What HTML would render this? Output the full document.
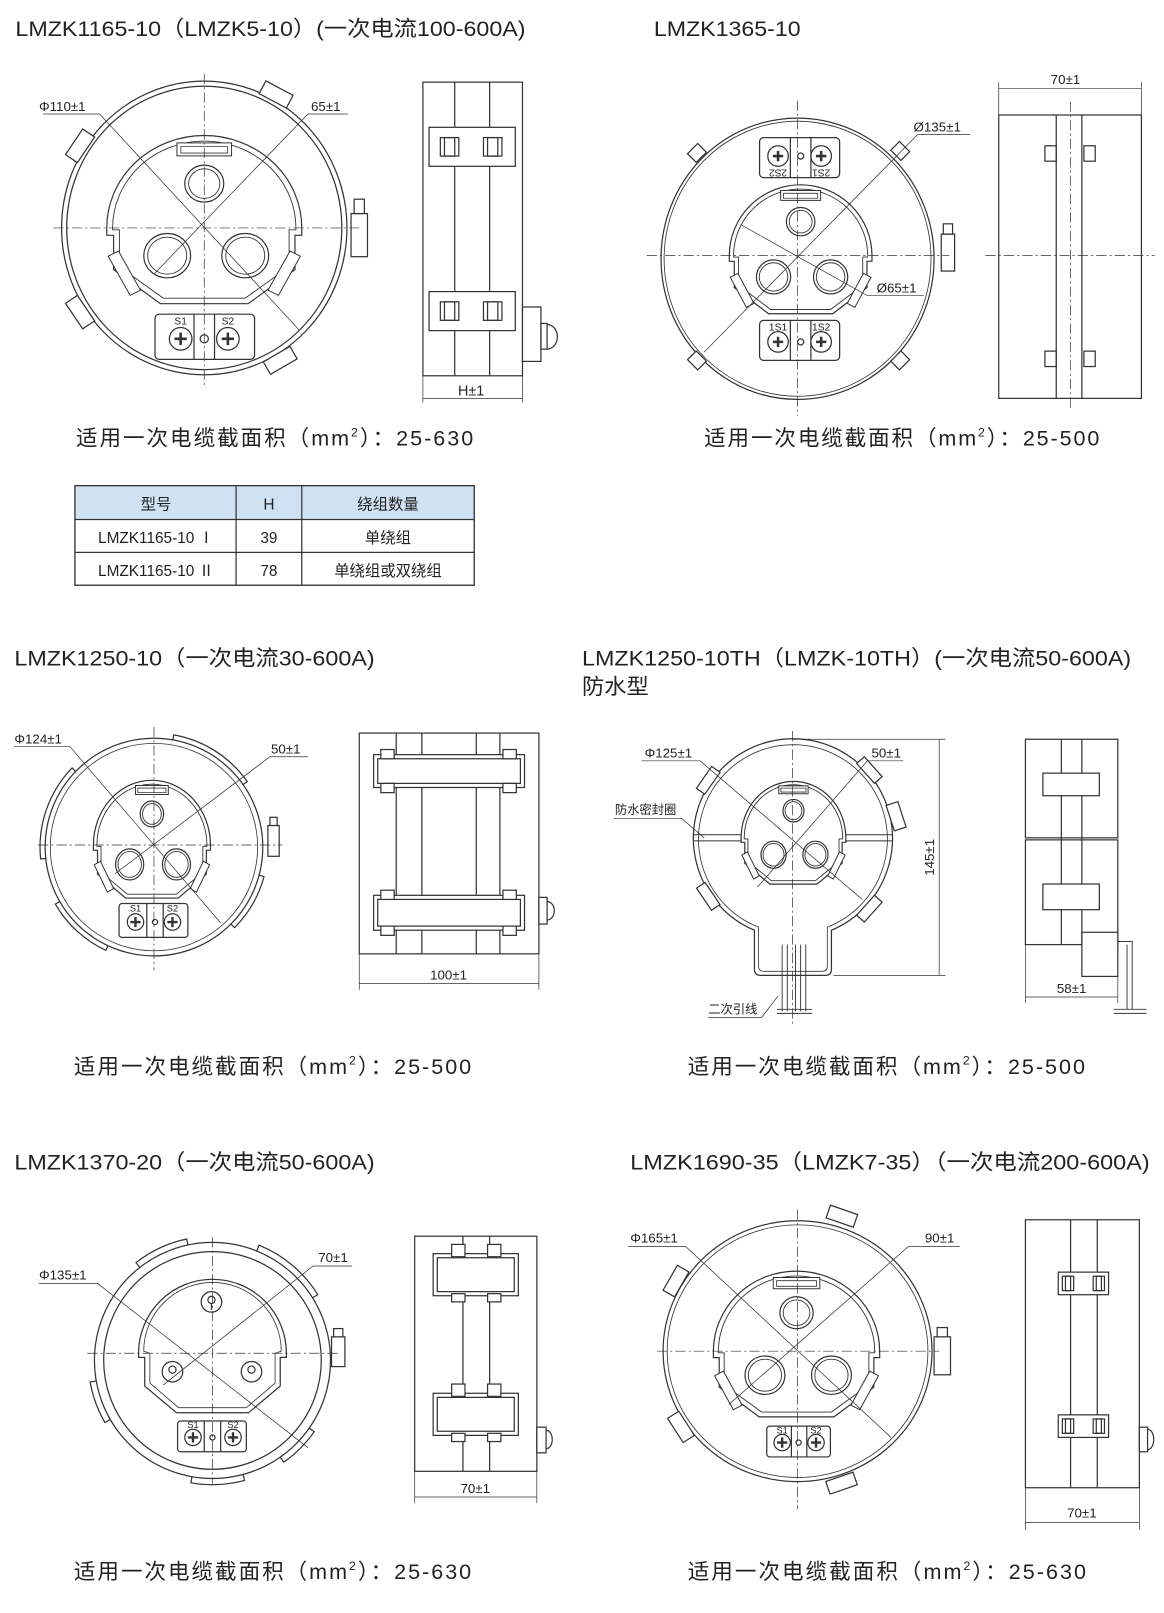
<!DOCTYPE html>
<html><head><meta charset="utf-8"><style>
html,body{margin:0;padding:0;background:#fff}
svg{display:block}
text{font-family:"Liberation Sans","Noto Sans CJK SC",sans-serif;fill:#222}
</style></head><body>
<svg width="1164" height="1613" viewBox="0 0 1134 1571" preserveAspectRatio="none" xmlns="http://www.w3.org/2000/svg">
<defs>
<g id="win">
<path d="M-100,0 A100,100 0 0 1 100,0 L100,8 L93,8 L93,45 L45,82 L-45,82 L-93,45 L-93,8 L-100,8 Z" fill="#fff" stroke="#333" stroke-width="1.2" vector-effect="non-scaling-stroke"/>
<path d="M-94,0 A94,94 0 0 1 94,0 L94,2 L87,2 L87,42 L42,76 L-42,76 L-87,42 L-87,2 L-94,2 Z" fill="none" stroke="#333" stroke-width="0.9" vector-effect="non-scaling-stroke"/>
<circle cx="0" cy="-48" r="20" fill="none" stroke="#333" stroke-width="1.2" vector-effect="non-scaling-stroke"/>
<circle cx="0" cy="-48" r="16" fill="none" stroke="#333" stroke-width="0.9" vector-effect="non-scaling-stroke"/>
<rect x="-28" y="-92" width="56" height="14" fill="#fff" stroke="#333" stroke-width="1" vector-effect="non-scaling-stroke"/>
<rect x="-24" y="-88" width="48" height="7" fill="none" stroke="#333" stroke-width="0.8" vector-effect="non-scaling-stroke"/>
<circle cx="-38" cy="30" r="24" fill="none" stroke="#333" stroke-width="1.2" vector-effect="non-scaling-stroke"/>
<circle cx="-38" cy="30" r="20" fill="none" stroke="#333" stroke-width="0.9" vector-effect="non-scaling-stroke"/>
<circle cx="42" cy="30" r="24" fill="none" stroke="#333" stroke-width="1.2" vector-effect="non-scaling-stroke"/>
<circle cx="42" cy="30" r="20" fill="none" stroke="#333" stroke-width="0.9" vector-effect="non-scaling-stroke"/>
<rect x="-88" y="25" width="12" height="48" transform="rotate(-28,-82,49)" fill="#fff" stroke="#333" stroke-width="1" vector-effect="non-scaling-stroke"/>
<rect x="76" y="25" width="12" height="48" transform="rotate(28,82,49)" fill="#fff" stroke="#333" stroke-width="1" vector-effect="non-scaling-stroke"/>
</g>
</defs>
<g fill="none" stroke="#333" stroke-width="1.2">

<!-- ===== Panel 1 ===== -->
<ellipse cx="199" cy="222" rx="139" ry="143"/>
<ellipse cx="199" cy="222" rx="134" ry="138"/>
<rect x="254" y="85" width="30" height="14" transform="rotate(28,269,92)" fill="#fff"/>
<rect x="63" y="135" width="30" height="14" transform="rotate(-56,78,142)" fill="#fff"/>
<rect x="63" y="297" width="30" height="14" transform="rotate(56,78,304)" fill="#fff"/>
<rect x="258" y="344" width="30" height="14" transform="rotate(-30,273,351)" fill="#fff"/>
<use href="#win" transform="translate(199,222) scale(0.95,0.9)"/>
<rect x="151" y="306" width="97" height="44" rx="4" fill="#fff"/>
<line x1="189" y1="306" x2="189" y2="350"/><line x1="209" y1="306" x2="209" y2="350"/>
<circle cx="176" cy="330" r="11"/><circle cx="222" cy="330" r="11"/><circle cx="199" cy="330" r="4"/>
<path d="M170,330h12M176,324v12M216,330h12M222,324v12" stroke-width="2.5"/>
<rect x="342" y="208" width="16" height="42" fill="#fff"/><rect x="345" y="194" width="10" height="14" fill="#fff"/>
<g stroke-width="0.7" stroke-dasharray="10,3,2,3"><line x1="52" y1="222" x2="350" y2="222"/><line x1="199" y1="72" x2="199" y2="378"/></g>
<g stroke-width="0.7"><path d="M42,111H97L292,322"/><path d="M339,111H300L150,267"/></g>
<!-- side -->
<rect x="412" y="80" width="97" height="286" fill="#fff"/>
<line x1="443" y1="80" x2="443" y2="366"/><line x1="477" y1="80" x2="477" y2="366"/>
<rect x="418" y="124" width="84" height="38" fill="#fff"/><rect x="418" y="284" width="84" height="38" fill="#fff"/>
<rect x="429" y="134" width="18" height="18"/><rect x="433" y="134" width="10" height="18"/>
<rect x="471" y="134" width="18" height="18"/><rect x="475" y="134" width="10" height="18"/>
<rect x="429" y="294" width="18" height="18"/><rect x="433" y="294" width="10" height="18"/>
<rect x="471" y="294" width="18" height="18"/><rect x="475" y="294" width="10" height="18"/>
<rect x="509" y="299" width="18" height="53" fill="#fff"/><rect x="527" y="315" width="6" height="25"/><path d="M533,316 a10,12 0 0 1 0,24"/>
<g stroke-width="0.7"><line x1="412" y1="366" x2="412" y2="392"/><line x1="509" y1="366" x2="509" y2="392"/><line x1="412" y1="388" x2="509" y2="388"/></g>

<!-- ===== Panel 2 ===== -->
<ellipse cx="777" cy="252" rx="133" ry="137"/>
<ellipse cx="777" cy="252" rx="130" ry="134" stroke-width="0.8"/>
<rect x="672" y="143" width="14" height="12" transform="rotate(-45,679,149)" fill="#fff"/>
<rect x="870" y="141" width="14" height="12" transform="rotate(45,877,147)" fill="#fff"/>
<rect x="672" y="345" width="14" height="12" transform="rotate(45,679,351)" fill="#fff"/>
<rect x="870" y="345" width="14" height="12" transform="rotate(-45,877,351)" fill="#fff"/>
<use href="#win" transform="translate(780,249) scale(0.695,0.69)"/>
<rect x="740" y="134" width="78" height="39" rx="4" fill="#fff"/>
<line x1="770" y1="134" x2="770" y2="173"/><line x1="790" y1="134" x2="790" y2="173"/>
<circle cx="758" cy="152" r="10"/><circle cx="800" cy="152" r="10"/><circle cx="780" cy="152" r="3"/>
<path d="M753,152h10M758,147v10M795,152h10M800,147v10" stroke-width="2.5"/>
<rect x="740" y="312" width="78" height="39" rx="4" fill="#fff"/>
<line x1="770" y1="312" x2="770" y2="351"/><line x1="790" y1="312" x2="790" y2="351"/>
<circle cx="758" cy="333" r="10"/><circle cx="800" cy="333" r="10"/><circle cx="780" cy="333" r="3"/>
<path d="M753,333h10M758,328v10M795,333h10M800,328v10" stroke-width="2.5"/>
<rect x="917" y="228" width="13" height="36" fill="#fff"/><rect x="919" y="218" width="9" height="10" fill="#fff"/>
<g stroke-width="0.7" stroke-dasharray="10,3,2,3"><line x1="630" y1="249" x2="925" y2="249"/><line x1="777" y1="98" x2="777" y2="405"/></g>
<g stroke-width="0.7"><path d="M945,131H894L686,343"/><path d="M900,288H845L722,219"/></g>
<!-- side -->
<rect x="973" y="112" width="139" height="276" fill="#fff"/>
<line x1="1029" y1="112" x2="1029" y2="388"/><line x1="1054" y1="112" x2="1054" y2="388"/>
<rect x="1018" y="142" width="11" height="15"/><rect x="1056" y="142" width="11" height="15"/>
<rect x="1018" y="342" width="11" height="15"/><rect x="1056" y="342" width="11" height="15"/>
<g stroke-width="0.7" stroke-dasharray="10,3,2,3"><line x1="1043" y1="99" x2="1043" y2="400"/><line x1="960" y1="249" x2="1125" y2="249"/></g>
<g stroke-width="0.7"><line x1="973" y1="80" x2="973" y2="112"/><line x1="1112" y1="80" x2="1112" y2="112"/><line x1="973" y1="86" x2="1112" y2="86"/></g>

<!-- ===== Panel 3 ===== -->
<circle cx="150" cy="825" r="106"/>
<circle cx="150" cy="825" r="101" stroke-width="0.8"/>
<path d="M168.4,720.6 L169.3,715.7 A111,111 0 0 1 240.9,761.3 L236.8,764.2"/>
<path d="M44.6,836.1 L39.6,836.6 A111,111 0 0 1 70.2,747.9 L73.7,751.4"/>
<path d="M252.4,852.4 L257.2,853.7 A111,111 0 0 1 228.5,903.5 L225,900"/>
<path d="M58.2,878 L53.9,880.5 A111,111 0 0 0 103.1,925.6 L105.2,921.1"/>
<use href="#win" transform="translate(148,823) scale(0.57,0.63)"/>
<rect x="116" y="880" width="67" height="33" rx="3" fill="#fff"/>
<line x1="143" y1="880" x2="143" y2="913"/><line x1="159" y1="880" x2="159" y2="913"/>
<circle cx="132" cy="898" r="8"/><circle cx="168" cy="898" r="8"/><circle cx="151" cy="898" r="2.5"/>
<path d="M127,898h10M132,893v10M163,898h10M168,893v10" stroke-width="2.3"/>
<rect x="261" y="804" width="11" height="30" fill="#fff"/><rect x="263" y="796" width="7" height="8" fill="#fff"/>
<g stroke-width="0.7" stroke-dasharray="10,3,2,3"><line x1="37" y1="823" x2="275" y2="823"/><line x1="150" y1="708" x2="150" y2="945"/></g>
<g stroke-width="0.7"><path d="M14,727H68L215,899"/><path d="M300,737H263L112,851"/></g>
<!-- side -->
<rect x="350" y="714" width="175" height="215" fill="#fff"/>
<line x1="386" y1="714" x2="386" y2="929"/><line x1="411" y1="714" x2="411" y2="929"/>
<line x1="464" y1="714" x2="464" y2="929"/><line x1="487" y1="714" x2="487" y2="929"/>
<rect x="364" y="735" width="147" height="32" fill="#fff"/><rect x="368" y="739" width="139" height="24"/>
<rect x="364" y="872" width="147" height="34" fill="#fff"/><rect x="368" y="876" width="139" height="26"/>
<rect x="371" y="730" width="13" height="9" fill="#fff"/><rect x="490" y="730" width="13" height="9" fill="#fff"/>
<rect x="371" y="763" width="13" height="9" fill="#fff"/><rect x="490" y="763" width="13" height="9" fill="#fff"/>
<rect x="371" y="867" width="13" height="9" fill="#fff"/><rect x="490" y="867" width="13" height="9" fill="#fff"/>
<rect x="371" y="902" width="13" height="9" fill="#fff"/><rect x="490" y="902" width="13" height="9" fill="#fff"/>
<rect x="525" y="874" width="8" height="26" fill="#fff"/><path d="M533,878 a7,9 0 0 1 0,18"/>
<g stroke-width="0.7"><line x1="350" y1="929" x2="350" y2="964"/><line x1="525" y1="929" x2="525" y2="964"/><line x1="350" y1="958" x2="525" y2="958"/></g>

<!-- ===== Panel 4 ===== -->
<path d="M735,906 A97,97 0 1 1 810,906 L810,944 Q810,950 804,950 L741,950 Q735,950 735,944 Z" fill="#fff"/>
<path d="M739,903 A92,92 0 1 1 806,903 L806,941 Q806,946 801,946 L744,946 Q739,946 739,941 Z" stroke-width="0.8"/>
<line x1="675" y1="813" x2="869" y2="813" stroke-width="0.9"/><line x1="675" y1="819" x2="869" y2="819" stroke-width="0.9"/>
<rect x="677" y="755" width="26" height="10" transform="rotate(-55,690,760)" fill="#fff"/>
<rect x="834" y="745" width="26" height="10" transform="rotate(48,847,750)" fill="#fff"/>
<rect x="677" y="868" width="26" height="10" transform="rotate(56,690,873)" fill="#fff"/>
<rect x="834" y="880" width="26" height="10" transform="rotate(-48,847,885)" fill="#fff"/>
<use href="#win" transform="translate(773,816) scale(0.51,0.55)"/>
<rect x="867" y="782" width="12" height="26" transform="rotate(-18,873,795)" fill="#fff"/>
<g stroke-width="0.9"><line x1="762" y1="920" x2="762" y2="985"/><line x1="767" y1="920" x2="767" y2="985"/><line x1="775" y1="920" x2="775" y2="985"/><line x1="780" y1="920" x2="780" y2="985"/><line x1="785" y1="920" x2="785" y2="985"/><line x1="757" y1="983" x2="791" y2="983"/><line x1="757" y1="987" x2="791" y2="987"/></g>
<g stroke-width="0.7" stroke-dasharray="10,3,2,3"><line x1="772" y1="712" x2="772" y2="1000"/></g>
<g stroke-width="0.7"><path d="M625,741H682L840,876"/><path d="M880,741H845L738,864"/><path d="M598,797H664L686,816"/><path d="M690,991H742L758,970"/>
<line x1="772" y1="720" x2="921" y2="720"/><line x1="812" y1="950" x2="921" y2="950"/><line x1="915" y1="720" x2="915" y2="950"/></g>
<!-- side -->
<rect x="999" y="720" width="90" height="96" fill="#fff"/><rect x="999" y="818" width="90" height="102" fill="#fff"/>
<line x1="1034" y1="720" x2="1034" y2="920"/><line x1="1054" y1="720" x2="1054" y2="920"/>
<rect x="1016" y="753" width="55" height="22" fill="#fff"/><rect x="1016" y="861" width="55" height="25" fill="#fff"/>
<rect x="1054" y="908" width="35" height="43" fill="#fff"/>
<path d="M1089,917H1103V983M1098,920V983" stroke-width="0.9"/>
<path d="M1085,983H1117M1085,987H1117" stroke-width="0.9"/>
<g stroke-width="0.7"><line x1="999" y1="920" x2="999" y2="977"/><line x1="1089" y1="951" x2="1089" y2="977"/><line x1="999" y1="971" x2="1089" y2="971"/></g>

<!-- ===== Panel 5 ===== -->
<circle cx="207" cy="1325" r="115"/>
<circle cx="207" cy="1325" r="106"/>
<path d="M136.2,1234.4 L132.5,1229.7 A121,121 0 0 1 181.8,1206.7 L183.1,1212.5"/>
<path d="M250.1,1218.4 L252.4,1212.8 A121,121 0 0 1 309.6,1260.9 L304.5,1264.1"/>
<path d="M301.2,1391 L306.1,1394.4 A121,121 0 0 1 276.5,1424.1 L273,1419.2"/>
<path d="M236.8,1436.1 L238.3,1441.9 A121,121 0 0 1 186,1444.2 L187,1438.3"/>
<path d="M107.4,1382.5 L102.2,1385.5 A121,121 0 0 1 87.8,1346 L93.7,1345"/>
<path d="M135,1318 A72,72 0 0 1 279,1318 L279,1322 L273,1322 L273,1350 L242,1376 L172,1376 L141,1350 L141,1322 L135,1322 Z" fill="#fff"/>
<path d="M140,1316 A67,67 0 0 1 274,1316 L268,1318 L268,1347 L240,1371 L174,1371 L146,1347 L146,1318 Z" stroke-width="0.8"/>
<circle cx="206" cy="1268" r="10"/><circle cx="206" cy="1266" r="3.5"/><line x1="206" y1="1269" x2="206" y2="1276"/>
<circle cx="168" cy="1336" r="10"/><circle cx="168" cy="1334" r="3.5"/><circle cx="245" cy="1336" r="10"/><circle cx="245" cy="1334" r="3.5"/>
<rect x="173" y="1384" width="67" height="30" rx="3" fill="#fff"/>
<line x1="199" y1="1384" x2="199" y2="1414"/><line x1="215" y1="1384" x2="215" y2="1414"/>
<circle cx="188" cy="1400" r="8"/><circle cx="227" cy="1400" r="8"/><circle cx="207" cy="1400" r="2.5"/>
<path d="M183,1400h10M188,1395v10M222,1400h10M227,1395v10" stroke-width="2.3"/>
<rect x="323" y="1302" width="13" height="29" fill="#fff"/><rect x="325" y="1294" width="9" height="8" fill="#fff"/>
<g stroke-width="0.7" stroke-dasharray="10,3,2,3"><line x1="85" y1="1318" x2="330" y2="1318"/><line x1="207" y1="1205" x2="207" y2="1445"/></g>
<g stroke-width="0.7"><path d="M38,1250H95L300,1410"/><path d="M343,1233H305L159,1349"/></g>
<!-- side -->
<rect x="404" y="1204" width="119" height="229" fill="#fff"/>
<line x1="451" y1="1204" x2="451" y2="1433"/><line x1="477" y1="1204" x2="477" y2="1433"/>
<rect x="422" y="1221" width="83" height="41" fill="#fff"/><rect x="426" y="1225" width="75" height="33"/>
<rect x="422" y="1357" width="83" height="41" fill="#fff"/><rect x="426" y="1361" width="75" height="33"/>
<rect x="440" y="1212" width="13" height="12" fill="#fff"/><rect x="475" y="1212" width="13" height="12" fill="#fff"/>
<rect x="440" y="1260" width="13" height="8" fill="#fff"/><rect x="475" y="1260" width="13" height="8" fill="#fff"/>
<rect x="440" y="1348" width="13" height="12" fill="#fff"/><rect x="475" y="1348" width="13" height="12" fill="#fff"/>
<rect x="440" y="1396" width="13" height="8" fill="#fff"/><rect x="475" y="1396" width="13" height="8" fill="#fff"/>
<rect x="523" y="1390" width="9" height="25" fill="#fff"/><path d="M532,1393 a6,9 0 0 1 0,18"/>
<g stroke-width="0.7"><line x1="404" y1="1433" x2="404" y2="1464"/><line x1="523" y1="1433" x2="523" y2="1464"/><line x1="404" y1="1458" x2="523" y2="1458"/></g>

<!-- ===== Panel 6 ===== -->
<ellipse cx="777" cy="1316" rx="131" ry="127"/>
<ellipse cx="777" cy="1316" rx="127" ry="123" stroke-width="0.8"/>
<rect x="806" y="1178" width="28" height="13" transform="rotate(19,820,1185)" fill="#fff"/>
<rect x="645" y="1241" width="28" height="13" transform="rotate(-60,659,1248)" fill="#fff"/>
<rect x="649" y="1383" width="28" height="13" transform="rotate(57,663,1390)" fill="#fff"/>
<rect x="806" y="1438" width="28" height="13" transform="rotate(-19,820,1445)" fill="#fff"/>
<use href="#win" transform="translate(776,1316) scale(0.81,0.78)"/>
<rect x="747" y="1389" width="62" height="30" rx="3" fill="#fff"/>
<line x1="771" y1="1389" x2="771" y2="1419"/><line x1="786" y1="1389" x2="786" y2="1419"/>
<circle cx="762" cy="1405" r="8"/><circle cx="795" cy="1405" r="8"/><circle cx="778" cy="1405" r="2.5"/>
<path d="M757,1405h10M762,1400v10M790,1405h10M795,1400v10" stroke-width="2.3"/>
<rect x="910" y="1302" width="16" height="37" fill="#fff"/><rect x="913" y="1293" width="10" height="9" fill="#fff"/>
<g stroke-width="0.7" stroke-dasharray="10,3,2,3"><line x1="640" y1="1316" x2="915" y2="1316"/><line x1="777" y1="1178" x2="777" y2="1470"/></g>
<g stroke-width="0.7"><path d="M612,1214H668L868,1400"/><path d="M935,1214H885L710,1368"/></g>
<!-- side -->
<rect x="999" y="1188" width="111" height="261" fill="#fff"/>
<line x1="1043" y1="1188" x2="1043" y2="1449"/><line x1="1069" y1="1188" x2="1069" y2="1449"/>
<rect x="1031" y="1239" width="49" height="22" fill="#fff"/><rect x="1031" y="1378" width="49" height="22" fill="#fff"/>
<rect x="1035" y="1243" width="11" height="14"/><rect x="1038" y="1243" width="5" height="14"/><rect x="1065" y="1243" width="11" height="14"/><rect x="1068" y="1243" width="5" height="14"/>
<rect x="1035" y="1382" width="11" height="14"/><rect x="1038" y="1382" width="5" height="14"/><rect x="1065" y="1382" width="11" height="14"/><rect x="1068" y="1382" width="5" height="14"/>
<rect x="1110" y="1390" width="8" height="24" fill="#fff"/><path d="M1118,1392 a6,10 0 0 1 0,20"/>
<g stroke-width="0.7"><line x1="999" y1="1449" x2="999" y2="1490"/><line x1="1110" y1="1449" x2="1110" y2="1490"/><line x1="999" y1="1483" x2="1110" y2="1483"/></g>

<!-- table -->
<rect x="73" y="473" width="389" height="33" fill="#cfe2f3" stroke="none"/>
<rect x="73" y="473" width="389" height="97" stroke="#333" stroke-width="1.3"/>
<line x1="73" y1="506" x2="462" y2="506"/><line x1="73" y1="538" x2="462" y2="538"/>
<line x1="230" y1="473" x2="230" y2="570"/><line x1="294" y1="473" x2="294" y2="570"/>
</g>

<!-- text -->
<g font-size="21">
<text x="15" y="35" textLength="497" lengthAdjust="spacingAndGlyphs">LMZK1165-10（LMZK5-10）(一次电流100-600A)</text>
<text x="637" y="35" textLength="143" lengthAdjust="spacingAndGlyphs">LMZK1365-10</text>
<text x="14" y="648" textLength="351" lengthAdjust="spacingAndGlyphs">LMZK1250-10（一次电流30-600A)</text>
<text x="567" y="648" textLength="535" lengthAdjust="spacingAndGlyphs">LMZK1250-10TH（LMZK-10TH）(一次电流50-600A)</text>
<text x="567" y="676" textLength="65" lengthAdjust="spacingAndGlyphs">防水型</text>
<text x="14" y="1139" textLength="351" lengthAdjust="spacingAndGlyphs">LMZK1370-20（一次电流50-600A)</text>
<text x="614" y="1139" textLength="506" lengthAdjust="spacingAndGlyphs">LMZK1690-35（LMZK7-35）（一次电流200-600A)</text>
</g>
<g font-size="21">
<text x="74" y="434" textLength="387" lengthAdjust="spacing">适用一次电缆截面积（mm<tspan font-size="12" dy="-9">2</tspan><tspan dy="9">）：25-630</tspan></text>
<text x="686" y="434" textLength="385" lengthAdjust="spacing">适用一次电缆截面积（mm<tspan font-size="12" dy="-9">2</tspan><tspan dy="9">）：25-500</tspan></text>
<text x="72" y="1046" textLength="387" lengthAdjust="spacing">适用一次电缆截面积（mm<tspan font-size="12" dy="-9">2</tspan><tspan dy="9">）：25-500</tspan></text>
<text x="670" y="1046" textLength="387" lengthAdjust="spacing">适用一次电缆截面积（mm<tspan font-size="12" dy="-9">2</tspan><tspan dy="9">）：25-500</tspan></text>
<text x="72" y="1538" textLength="387" lengthAdjust="spacing">适用一次电缆截面积（mm<tspan font-size="12" dy="-9">2</tspan><tspan dy="9">）：25-630</tspan></text>
<text x="670" y="1538" textLength="388" lengthAdjust="spacing">适用一次电缆截面积（mm<tspan font-size="12" dy="-9">2</tspan><tspan dy="9">）：25-630</tspan></text>
</g>
<g font-size="15" text-anchor="middle">
<text x="152" y="496">型号</text><text x="262" y="496">H</text><text x="378" y="496">绕组数量</text>
<text x="152" y="529">LMZK1165-10 Ⅰ</text><text x="262" y="529">39</text><text x="378" y="529">单绕组</text>
<text x="152" y="561">LMZK1165-10 Ⅱ</text><text x="262" y="561">78</text><text x="378" y="561">单绕组或双绕组</text>
</g>
<g font-size="13">
<text x="38" y="108">Φ110±1</text><text x="303" y="108">65±1</text>
<text x="459" y="385" text-anchor="middle" font-size="14">H±1</text>
<text x="890" y="128">Ø135±1</text><text x="854" y="285">Ø65±1</text>
<text x="1038" y="82" text-anchor="middle">70±1</text>
<text x="14" y="724">Φ124±1</text><text x="264" y="734">50±1</text>
<text x="437" y="954" text-anchor="middle">100±1</text>
<text x="628" y="738">Φ125±1</text><text x="849" y="738">50±1</text>
<text x="599" y="793" font-size="12">防水密封圈</text>
<text x="690" y="987" font-size="12">二次引线</text>
<text transform="translate(910,835) rotate(-90)" text-anchor="middle">145±1</text>
<text x="1044" y="967" text-anchor="middle">58±1</text>
<text x="38" y="1246">Φ135±1</text><text x="310" y="1229">70±1</text>
<text x="463" y="1454" text-anchor="middle">70±1</text>
<text x="614" y="1210">Φ165±1</text><text x="901" y="1210">90±1</text>
<text x="1054" y="1478" text-anchor="middle">70±1</text>
</g>
<g font-size="10" text-anchor="middle">
<text x="176" y="316">S1</text><text x="222" y="316">S2</text>
<text x="758" y="322">1S1</text><text x="800" y="322">1S2</text>
<text transform="translate(758,165) rotate(180)">2S2</text><text transform="translate(800,165) rotate(180)">2S1</text>
<text x="132" y="888" font-size="9">S1</text><text x="168" y="888" font-size="9">S2</text>
<text x="188" y="1391" font-size="9">S1</text><text x="227" y="1391" font-size="9">S2</text>
<text x="762" y="1396" font-size="9">S1</text><text x="795" y="1396" font-size="9">S2</text>
</g>
</svg>
</body></html>
